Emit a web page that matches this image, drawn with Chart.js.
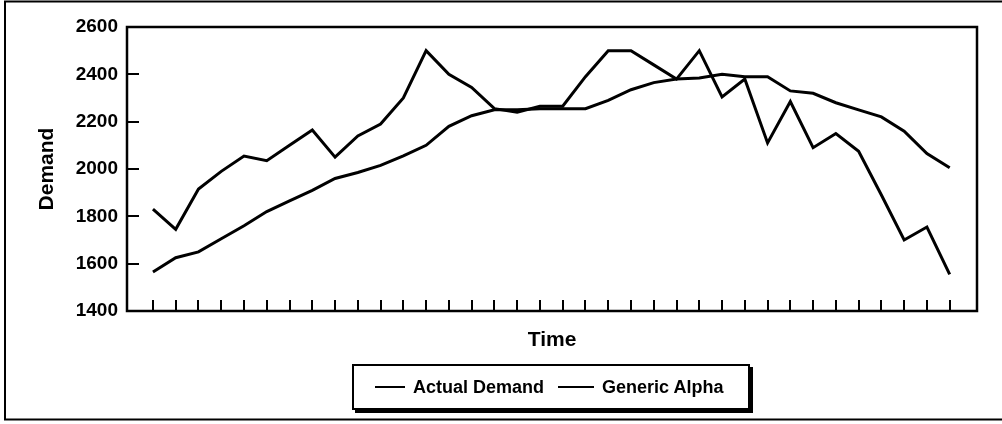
<!DOCTYPE html>
<html>
<head>
<meta charset="utf-8">
<script src="https://cdn.jsdelivr.net/npm/chart.js@4.4.1/dist/chart.umd.min.js"></script>
<style>
  html, body { margin: 0; padding: 0; background: #fff; }
  #wrap { position: relative; width: 1002px; height: 424px; }
  #legendBox {
    position: absolute; left: 352px; top: 364px; width: 398px; height: 46px;
    box-sizing: border-box; border: 2px solid #000; box-shadow: 3px 3px 0 #000;
    background: #fff; display: flex; align-items: center; padding-left: 21px;
    font: bold 18px "Liberation Sans", Arial, sans-serif; color: #000;
  }
  .item { display: flex; align-items: center; margin-right: 14px; }
  .swatch { display: inline-block; height: 2px; background: #000; margin-right: 8px; }
</style>
</head>
<body>
<div id="wrap">
  <canvas id="demandChart" width="1002" height="424"></canvas>
  <div id="legendBox"></div>
</div>
<script>
const periods = [1, 2, 3, 4, 5, 6, 7, 8, 9, 10, 11, 12, 13, 14, 15, 16, 17, 18,
  19, 20, 21, 22, 23, 24, 25, 26, 27, 28, 29, 30, 31, 32, 33, 34, 35, 36];
const actualDemand = [1830, 1745, 1915, 1990, 2055, 2035, 2100, 2165, 2050, 2140, 2190, 2300,
  2500, 2400, 2345, 2255, 2240, 2265, 2265, 2390, 2500, 2500, 2440, 2380,
  2500, 2305, 2380, 2110, 2285, 2090, 2150, 2075, 1890, 1700, 1755, 1555];
const genericAlpha = [1565, 1625, 1650, 1705, 1760, 1820, 1865, 1910, 1960, 1985, 2015, 2055,
  2100, 2180, 2225, 2250, 2250, 2255, 2255, 2255, 2290, 2335, 2365, 2380,
  2385, 2400, 2390, 2390, 2330, 2320, 2280, 2250, 2220, 2160, 2065, 2005];
const demandTicks = [1400, 1600, 1800, 2000, 2200, 2400, 2600];
const seriesNames = ["Actual Demand", "Generic Alpha"];

const FONT = "'Liberation Sans', Arial, sans-serif";

// frame, inward tick marks and the outer page border
const framePlugin = {
  id: "frame",
  beforeDraw(chart) {
    const ctx = chart.ctx;
    ctx.save();
    ctx.strokeStyle = "#000";
    ctx.lineWidth = 2;
    ctx.beginPath();
    ctx.moveTo(1010, 1.5);
    ctx.lineTo(5, 1.5);
    ctx.lineTo(5, 419.5);
    ctx.lineTo(1010, 419.5);
    ctx.stroke();
    ctx.restore();
  },
  afterDraw(chart) {
    const {ctx, chartArea: a, scales} = chart;
    ctx.save();
    ctx.strokeStyle = "#000";
    ctx.lineWidth = 2.5;
    ctx.strokeRect(a.left, a.top, a.right - a.left, a.bottom - a.top);
    ctx.lineWidth = 2;
    ctx.beginPath();
    periods.forEach(p => {
      const x = Math.round(scales.x.getPixelForValue(p));
      ctx.moveTo(x, a.bottom);
      ctx.lineTo(x, a.bottom - 11);
    });
    demandTicks.forEach(v => {
      const y = Math.round(scales.y.getPixelForValue(v));
      ctx.moveTo(a.left, y);
      ctx.lineTo(a.left + 12, y);
    });
    ctx.stroke();
    ctx.restore();
  }
};

const chart = new Chart(document.getElementById("demandChart"), {
  type: "line",
  data: {
    datasets: [
      {
        label: seriesNames[0],
        data: periods.map((p, i) => ({x: p, y: actualDemand[i]})),
        borderColor: "#000",
        borderWidth: 3,
        pointRadius: 0,
        tension: 0
      },
      {
        label: seriesNames[1],
        data: periods.map((p, i) => ({x: p, y: genericAlpha[i]})),
        borderColor: "#000",
        borderWidth: 3,
        pointRadius: 0,
        tension: 0
      }
    ]
  },
  options: {
    responsive: false,
    animation: false,
    layout: {padding: {left: 0, right: 25, top: 27, bottom: 0}},
    plugins: {
      legend: {display: false},
      tooltip: {enabled: false}
    },
    scales: {
      x: {
        type: "linear",
        min: -0.14,
        max: 37.2,
        grid: {display: false},
        border: {display: false},
        ticks: {display: false},
        title: {
          display: true,
          text: "Time",
          color: "#000",
          font: {family: FONT, size: 21, weight: "bold"},
          padding: {top: 0, bottom: 71}
        },
        afterFit(s) { s.height = 113; }
      },
      y: {
        min: 1400,
        max: 2600,
        afterBuildTicks(s) { s.ticks = demandTicks.map(v => ({value: v})); },
        grid: {display: false, drawTicks: false},
        border: {display: false},
        ticks: {
          color: "#000",
          padding: 9,
          font: {family: FONT, size: 19, weight: "bold"},
          callback: v => String(v)
        },
        title: {
          display: true,
          text: "Demand",
          color: "#000",
          font: {family: FONT, size: 21, weight: "bold"},
          padding: {top: 35, bottom: 0}
        },
        afterFit(s) { s.width = 127; }
      }
    }
  },
  plugins: [framePlugin]
});

// html legend built from the chart's datasets
const legendBox = document.getElementById("legendBox");
const swatchWidths = [30, 36];
chart.data.datasets.forEach((ds, i) => {
  const item = document.createElement("span");
  item.className = "item";
  const sw = document.createElement("span");
  sw.className = "swatch";
  sw.style.width = swatchWidths[i] + "px";
  item.appendChild(sw);
  item.appendChild(document.createTextNode(ds.label));
  legendBox.appendChild(item);
});
</script>
</body>
</html>
